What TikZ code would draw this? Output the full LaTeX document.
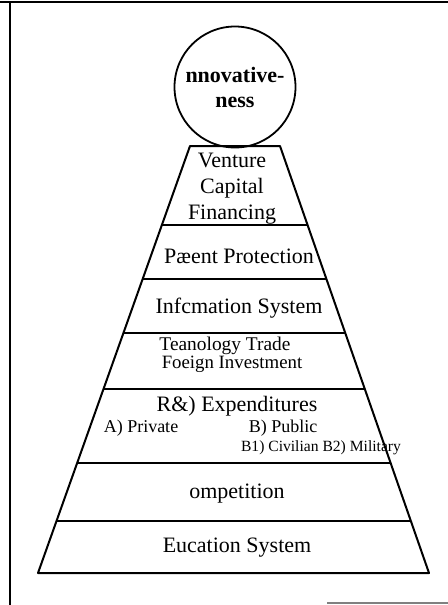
\documentclass[tikz,border=0pt]{standalone}
\usepackage{fontspec}
\setmainfont{Liberation Serif}
\usetikzlibrary{shapes,positioning,calc}
\tikzstyle{tier} = [align=center, font=\fontsize{11}{13}\selectfont, inner sep=0pt]
\tikzset{
	mid/.style = {font=\fontsize{9.7}{11}\selectfont, inner sep=0pt},
	small/.style = {font=\fontsize{9}{11}\selectfont, inner sep=0pt},
	tiny/.style = {font=\fontsize{7.8}{10}\selectfont, inner sep=0pt},
	top/.style = {draw, circle, line width=0.9pt, minimum size=60.5pt, inner sep=0pt, align=center, font=\fontsize{11}{12.5}\selectfont\bfseries},
	edge/.style = {line width=1pt},
	frame/.style = {line width=1pt}
}

\begin{document}
\begin{tikzpicture}[x=0.5pt, y=-0.5pt]
    \useasboundingbox (0,0) rectangle (448,605);
    \fill [white] (0,0) rectangle (448,605);

    % scanned frame
    \draw [frame] (0,2) -- (448,2);
    \draw [frame] (10,2) -- (10,605);
    \draw [gray, line width=0.6pt] (327,603) -- (448,603);

    % pyramid
    \coordinate (tl) at (190,146);
    \coordinate (tr) at (280,146);
    \coordinate (bl) at (38,573);
    \coordinate (br) at (429,573);
    \draw [edge, line join=round] (tl) -- (tr) -- (br) -- (bl) -- cycle;
    \foreach \t in {0.185,0.3115,0.438,0.569,0.742,0.878}
      \draw [edge] ($(tl)!\t!(bl)$) -- ($(tr)!\t!(br)$);

    \node [top] (innov) at (235,87) {nnovative-\\ness};

    \node [tier] (venture) at (232,189) {Venture\\Capital\\Financing};
    \node [tier, below of=venture, node distance=33.5pt, xshift=3.5pt] (patent) {Pæent Protection};
    \node [tier, below of=patent, node distance=26pt] (info) {Infcmation System};
    \node [mid, below of=info, node distance=19pt, xshift=-7pt] (trade) {Teanology Trade};
    \node [mid, font=\fontsize{9.4}{11}\selectfont, below of=trade, node distance=9pt, xshift=3.5pt] (foreign) {Foeign Investment};
    \node [tier, below of=foreign, node distance=21pt, xshift=2.5pt] (rnd) {R\&) Expenditures};
    \node [small, below of=rnd, node distance=11pt, xshift=-48pt] (private) {A) Private};
    \node [small, right of=private, node distance=71pt] (public) {B) Public};
    \node [tiny, below of=public, node distance=10pt, xshift=19pt] (military) {B1) Civilian B2) Military};
    \node [tier, below of=rnd, node distance=44pt] (compet) {ompetition};
    \node [tier, below of=compet, node distance=27pt] (educ) {Eucation System};
\end{tikzpicture}
\end{document}
